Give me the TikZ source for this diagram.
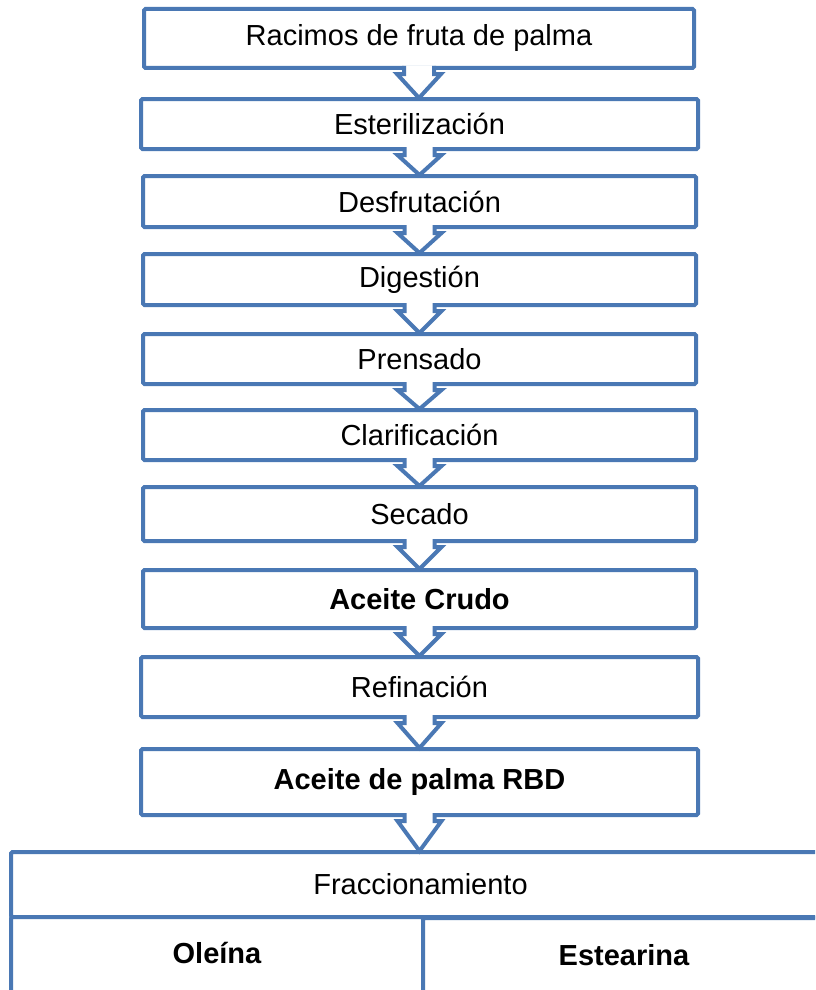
\documentclass[tikz,border=0pt]{standalone}
\usepackage{fontspec}
\setmainfont{Liberation Sans}
\usetikzlibrary{calc}
\definecolor{edgeblue}{HTML}{4A78B4}
\tikzset{
  box/.style={draw=edgeblue, line width=4pt, fill=white, rounded corners=1.5pt,
    outer sep=0pt, inner sep=0pt, text=black, font=\fontsize{29}{34}\selectfont},
  boldbox/.style={box, font=\fontsize{29}{34}\selectfont\bfseries},
  label text/.style={inner sep=0pt, text=black, font=\fontsize{29}{34}\selectfont\bfseries},
  arrowline/.style={draw=edgeblue, line width=4pt, line join=miter},
}
\newcommand{\flowarrow}[2]{%
  \coordinate (fa-top) at (#1.south);
  \coordinate (fa-tip) at (#1.south |- #2.north);
  \fill[white] ($(fa-top)+(-15,2.3)$) -- ($(fa-top)+(-15,-6)$) -- ($(fa-top)+(-22,-6)$) -- ($(fa-tip)+(0,1)$)
     -- ($(fa-top)+(22,-6)$) -- ($(fa-top)+(15,-6)$) -- ($(fa-top)+(15,2.3)$) -- cycle;
  \draw[arrowline] ($(fa-top)+(-15,2)$) -- ($(fa-top)+(-15,-6)$) -- ($(fa-top)+(-22,-6)$) -- ($(fa-tip)+(0,1)$)
     -- ($(fa-top)+(22,-6)$) -- ($(fa-top)+(15,-6)$) -- ($(fa-top)+(15,2)$);
}
\begin{document}
\begin{tikzpicture}[x=1pt,y=1pt]
\useasboundingbox (0,0) rectangle (815,-990);
\clip (0,0) rectangle (815,-990);
\node[box, minimum width=550, minimum height=59] (b1) at (419,-38.5) {Racimos de fruta de palma};
\node[box, minimum width=557, minimum height=50] (b2) at (419.5,-124) {Esterilización};
\node[box, minimum width=553, minimum height=51] (b3) at (419.5,-201.5) {Desfrutación};
\node[box, minimum width=553, minimum height=51] (b4) at (419.5,-279.5) {Digestión};
\node[box, minimum width=553, minimum height=50] (b5) at (419.5,-359) {Prensado};
\node[box, minimum width=553, minimum height=50] (b6) at (419.5,-435) {Clarificación};
\node[box, minimum width=553, minimum height=54] (b7) at (419.5,-514) {Secado};
\node[boldbox, minimum width=553, minimum height=58] (b8) at (419.5,-599) {Aceite Crudo};
\node[box, minimum width=557, minimum height=60] (b9) at (419.5,-687) {Refinación};
\node[boldbox, minimum width=557, minimum height=66] (b10) at (419.5,-782) {Aceite de palma RBD};
\node[box, minimum width=819, minimum height=65] (fr) at (420.5,-884.5) {Fraccionamiento};
\node[box, minimum width=412, minimum height=150, anchor=north west] (ole) at (11,-917) {};
\node[box, minimum width=410, minimum height=150, anchor=north west] (est) at (423,-918) {};
\node[label text] (oletxt) at (217,-953) {Oleína};
\node[label text] (esttxt) at (624,-955) {Estearina};
\flowarrow{b1}{b2}
\flowarrow{b2}{b3}
\flowarrow{b3}{b4}
\flowarrow{b4}{b5}
\flowarrow{b5}{b6}
\flowarrow{b6}{b7}
\flowarrow{b7}{b8}
\flowarrow{b8}{b9}
\flowarrow{b9}{b10}
\flowarrow{b10}{fr}
\end{tikzpicture}
\end{document}
